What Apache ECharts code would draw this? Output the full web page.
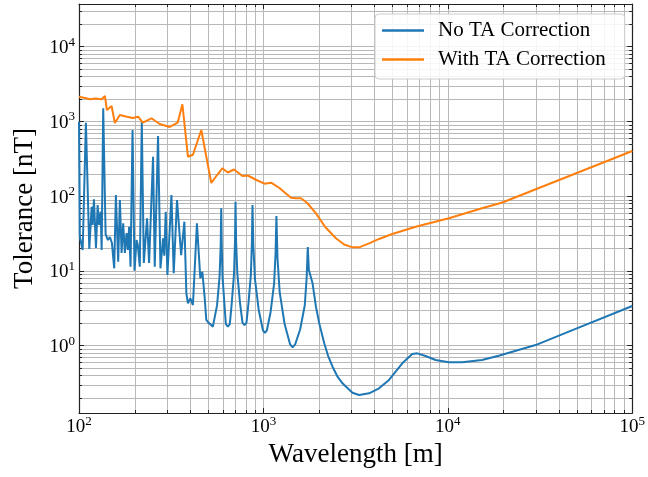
<!DOCTYPE html>
<html><head><meta charset="utf-8">
<script src="https://cdn.jsdelivr.net/npm/echarts/dist/echarts.min.js"></script>
<style>html,body{margin:0;padding:0;background:#fff}#c{width:648px;height:477px}</style>
</head><body><div id="c"></div>
<script>
const seriesNames = ['No TA Correction', 'With TA Correction'];
const xTitle = 'Wavelength [m]';
const yTitle = 'Tolerance [nT]';
const xMin = 100, xMax = 100000;
const yMin = 0.1259, yMax = 37240;

// wavelength [m], tolerance [nT]
const noTA = [
 [100,993],[101,28.7],[104.7,19.1],[109,962],[113.7,19.7],[117.1,72.4],[118.6,41.2],[120.5,90.9],
 [123.6,20.3],[126.2,76.2],[128.3,41.2],[131,62.1],[132.7,19.1],[135.3,1500],[139.4,31.2],[143.5,25.9],
 [147.1,28.5],[150.8,23.7],[155.2,10.85],[158.5,103.8],[163.1,13.3],[166.6,89.1],[170.2,17.4],[173.6,43.4],
 [177.3,17.4],[181.1,32.2],[184.1,19.1],[187.0,39.1],[190.3,11.4],[195.1,768],[200,10.1],[205.1,25.9],
 [208.4,22.2],[213.6,11.4],[219,993],[224.6,12.8],[233.9,50.6],[239.9,12.8],[252.1,337],[257.5,11.4],
 [268.3,639],[276.5,10.85],[285.6,27.4],[290,16],[295.3,62.1],[301.6,8.83],[317.1,103.8],[326.3,9.30],
 [340,89.1],[358,16.3],[372.7,45.6],[382.1,5.02],[389.8,3.69],[401.6,4.31],[414.8,3.50],[436,43.4],
 [454.8,7.97],[466.3,9.77],[479.9,4.52],[490.1,2.21],[506.2,2.01],[532,1.80],
 [560.5,3.46],[578.3,8.30],[586.4,21.4],[590.6,68.9],[594.5,21.4],[600.2,8.30],[615.4,3.46],
 [625.4,1.94],[641.2,1.80],[657.3,1.94],
 [672.7,3.59],[692.6,9.05],[701.3,24.6],[705.9,84.4],[711.0,25.0],[721.8,9.33],[746.5,3.75],
 [770.1,2.04],[789.5,1.89],[809.3,2.04],
 [829.7,3.68],[855,8.94],[865.8,23.4],[872.2,76.2],[882.1,21.6],[899.9,7.78],[942.6,3.03],
 [993.8,1.61],[1018.8,1.49],[1044.5,1.61],
 [1094.5,2.85],[1142.5,6.75],[1164,17.2],[1176,54.3],[1192,14.9],[1225,5.20],[1302,1.97],
 [1396,1.04],[1440,0.952],[1486,1.04],
 [1583,1.66],[1676,3.48],[1716,8.15],[1740,20.9],[1764,10.3],[1847,6.84],[1927,3.32],[2008,1.99],
 [2137,1.077],[2245,0.728],[2370,0.524],[2512,0.393],[2683,0.314],[3039,0.235],
 [3304,0.219],[3741,0.231],[4236,0.269],[4798,0.348],[5662,0.582],[6412,0.774],[6823,0.791],[7576,0.728],
 [8580,0.644],[10125,0.600],[11950,0.600],[15320,0.644],[18870,0.735],[29910,1.02],[47400,1.62],[100000,3.4]
];
const withTA = [
 [100,2143],[107.8,2060],[114.7,1977],[122,2028],[132.7,1977],[138.2,2190],[141.7,1422],[150.2,1610],
 [156.5,953],[166.6,1220],[179.5,1164],[195.8,1112],[209.2,1158],[221.8,962],[247.2,1102],[274,925],
 [310.4,843],[342.8,962],[363.6,1695],[389.8,337.6],[414.8,359],[460.5,768],[521.5,150],[526.7,143.4],
 [560.5,192],[598.3,236],[641.2,207.5],[692.6,227.6],[770.1,186],[822.6,189.2],[916.6,164.7],[1012.5,146.9],
 [1100.5,151.6],[1221,128.8],[1411,95.5],[1498,93.7],[1599,93.7],[1729,81.1],[1927,59.0],[2163,38.7],
 [2472,27.4],[2741,22.6],[3039,20.7],[3304,20.7],[3741,23.4],[4236,26.8],[5000,31.2],[6690,39.1],
 [10125,50.6],[15320,68.9],[19750,82.4],[100000,402.5]
];
const xMinorTicks = [200,300,400,500,600,700,800,900,2000,3000,4000,5000,6000,7000,8000,9000,
  20000,30000,40000,50000,60000,70000,80000,90000];
const yMinorTicks = [0.2,0.3,0.4,0.5,0.6,0.7,0.8,0.9,2,3,4,5,6,7,8,9,20,30,40,50,60,70,80,90,
  200,300,400,500,600,700,800,900,2000,3000,4000,5000,6000,7000,8000,9000,20000,30000];

const F = '"Liberation Serif", "DejaVu Serif", serif';
const gridColor = '#b8b8b8';
const axisColor = '#222';
const colors = ['#1f77b4', '#ff7f0e'];

function powLabel(v) {
  const e = Math.round(Math.log10(v));
  return '{b|10}{s|' + e + '}';
}
const rich = {
  b: {fontFamily: F, fontSize: 19, lineHeight: 22, verticalAlign: 'bottom', color: '#000'},
  s: {fontFamily: F, fontSize: 13, lineHeight: 13, verticalAlign: 'top', color: '#000'}
};

function baseAxis(extra) {
  return Object.assign({
    type: 'log', logBase: 10,
    axisLine: {show: true, onZero: false, lineStyle: {color: axisColor, width: 1.2}},
    axisTick: {show: true, inside: true, length: 5, lineStyle: {color: axisColor, width: 1}},
    minorTick: {show: false},
    splitLine: {show: false},
    axisLabel: {show: false}
  }, extra);
}

const chart = echarts.init(document.getElementById('c'), null, {renderer: 'canvas'});

function minorRender(vertical) {
  return function (params, api) {
    const cs = params.coordSys;
    const children = [];
    if (vertical) {
      const x = Math.round(api.coord([api.value(0), 1])[0]) + 0.5;
      children.push({type: 'line', shape: {x1: x, y1: cs.y, x2: x, y2: cs.y + cs.height}, style: {stroke: gridColor, lineWidth: 1}});
      children.push({type: 'line', shape: {x1: x, y1: cs.y + cs.height, x2: x, y2: cs.y + cs.height - 3}, style: {stroke: axisColor, lineWidth: 1}});
      children.push({type: 'line', shape: {x1: x, y1: cs.y, x2: x, y2: cs.y + 3}, style: {stroke: axisColor, lineWidth: 1}});
    } else {
      const y = Math.round(api.coord([1000, api.value(1)])[1]) + 0.5;
      children.push({type: 'line', shape: {x1: cs.x, y1: y, x2: cs.x + cs.width, y2: y}, style: {stroke: gridColor, lineWidth: 1}});
      children.push({type: 'line', shape: {x1: cs.x, y1: y, x2: cs.x + 3, y2: y}, style: {stroke: axisColor, lineWidth: 1}});
      children.push({type: 'line', shape: {x1: cs.x + cs.width, y1: y, x2: cs.x + cs.width - 3, y2: y}, style: {stroke: axisColor, lineWidth: 1}});
    }
    return {type: 'group', children: children};
  };
}

chart.setOption({
  animation: false,
  backgroundColor: '#fff',
  grid: {left: 79, right: 14, top: 4, bottom: 64},
  legend: {
    data: seriesNames, orient: 'vertical', left: 375, top: 14,
    padding: [6, 19, 9, 7], itemWidth: 42, itemHeight: 2.5, itemGap: 8, icon: 'rect',
    backgroundColor: 'rgba(255,255,255,0.85)', borderColor: '#cccccc', borderWidth: 1, borderRadius: 4,
    textStyle: {fontFamily: F, fontSize: 21, lineHeight: 21, color: '#000', padding: [0, 0, 0, 9]}
  },
  xAxis: [
    baseAxis({
      position: 'bottom', min: xMin, max: xMax,
      name: xTitle, nameLocation: 'middle', nameGap: 27,
      nameTextStyle: {fontFamily: F, fontSize: 27, color: '#000'},
      splitLine: {show: true, lineStyle: {color: gridColor, width: 1}},
      axisLabel: {show: true, margin: 2, formatter: powLabel, rich: rich, showMinLabel: true, showMaxLabel: true}
    }),
    baseAxis({position: 'top', min: xMin, max: xMax})
  ],
  yAxis: [
    baseAxis({
      position: 'left', min: yMin, max: yMax,
      name: yTitle, nameLocation: 'middle', nameGap: 38, nameRotate: 90,
      nameTextStyle: {fontFamily: F, fontSize: 27, color: '#000'},
      splitLine: {show: true, lineStyle: {color: gridColor, width: 1}},
      axisLabel: {show: true, margin: 4, formatter: powLabel, rich: rich, showMinLabel: false, showMaxLabel: false}
    }),
    baseAxis({position: 'right', min: yMin, max: yMax})
  ],
  series: [
    {type: 'custom', silent: true, z: 1, xAxisIndex: 0, yAxisIndex: 0,
     data: xMinorTicks.map(v => [v, 1]), renderItem: minorRender(true)},
    {type: 'custom', silent: true, z: 1, xAxisIndex: 0, yAxisIndex: 0,
     data: yMinorTicks.map(v => [1000, v]), renderItem: minorRender(false)},
    {name: seriesNames[0], type: 'line', data: noTA, symbol: 'none', showSymbol: false, z: 3,
     lineStyle: {color: colors[0], width: 2}, itemStyle: {color: colors[0]}},
    {name: seriesNames[1], type: 'line', data: withTA, symbol: 'none', showSymbol: false, z: 3,
     lineStyle: {color: colors[1], width: 2}, itemStyle: {color: colors[1]}}
  ]
});
</script>
</body></html>
